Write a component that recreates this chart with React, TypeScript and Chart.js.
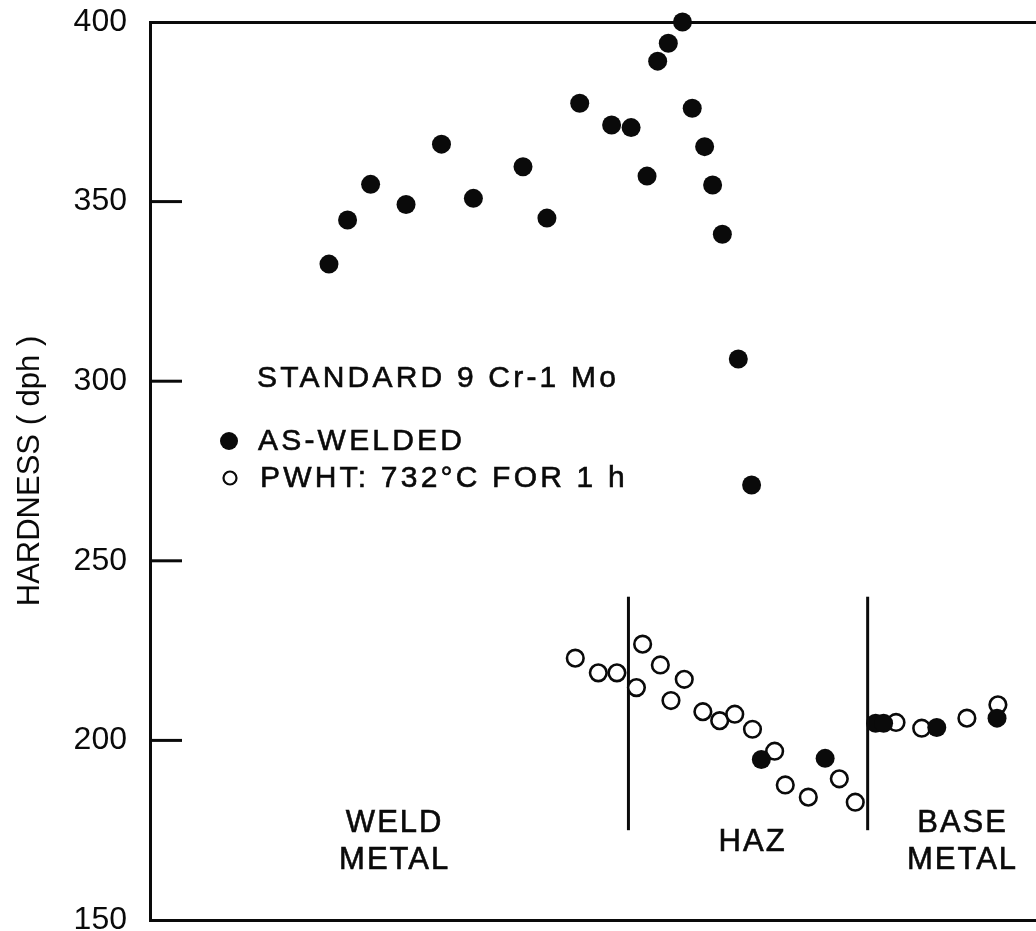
import React, { useEffect, useRef } from "react";
import { Chart, registerables } from "chart.js";

Chart.register(...registerables);

// ---- data ----
const yTicks = [150, 200, 250, 300, 350, 400];

const asWeldedX = [20.2, 22.3, 24.9, 28.9, 32.9, 36.5, 42.1, 44.8, 48.5, 52.1, 54.3, 56.1, 57.3, 58.5, 60.1, 61.2, 62.6, 63.5, 64.6, 66.4, 67.9, 69.0, 76.2, 81.9, 82.8, 88.8, 95.6];
const asWeldedY = [332.6, 344.9, 354.8, 349.2, 366.0, 350.9, 359.7, 345.4, 377.4, 371.3, 370.6, 357.1, 389.1, 394.1, 400, 376.0, 365.3, 354.6, 340.9, 306.2, 271.1, 194.7, 195.0, 204.8, 204.8, 203.6, 206.2];

const pwhtX = [48.0, 50.6, 52.7, 54.9, 55.6, 57.6, 58.8, 60.3, 62.4, 64.3, 66.0, 68.0, 70.5, 71.7, 74.3, 77.8, 79.6, 84.2, 87.1, 92.2, 95.7];
const pwhtY = [222.9, 218.8, 218.8, 214.7, 226.8, 221.0, 211.1, 217.0, 208.0, 205.5, 207.3, 203.1, 197.0, 187.6, 184.2, 189.3, 182.8, 205.0, 203.4, 206.2, 209.9];

const zoneBoundaryX = [54.0, 81.0];
const zoneLineY = [175, 240];

const regionLines = [["WELD", "METAL"], ["HAZ"], ["BASE", "METAL"]];
const regionX = [27.5, 67.9, 91.6];
const regionY = [[176.9, 166.7], [171.6], [176.9, 166.7]];

const legendTitle = "STANDARD 9 Cr-1 Mo";
const seriesLabels = ["AS-WELDED", "PWHT: 732°C FOR 1 h"];
const yTitle = "HARDNESS ( dph )";

const W = 1036;
const H = 931;
const FONT = "'Liberation Sans', Arial, sans-serif";
const INK = "#0a0a0a";

function drawSpaced(ctx: CanvasRenderingContext2D, text: string, x: number, y: number, spacing: number, align: "left" | "center") {
  const anyCtx = ctx as any;
  anyCtx.letterSpacing = spacing + "px";
  const w = ctx.measureText(text).width - spacing;
  const startX = align === "center" ? x - w / 2 : x;
  ctx.textAlign = "left";
  ctx.fillText(text, startX, y);
  ctx.lineWidth = 0.6;
  ctx.strokeText(text, startX, y);
  anyCtx.letterSpacing = "0px";
}

const decorPlugin = {
  id: "decor",
  afterDraw(chart: any) {
    const { ctx, chartArea, scales } = chart;
    const ys = scales.y;
    const xs = scales.x;
    ctx.save();
    // inward ticks
    ctx.strokeStyle = INK;
    ctx.lineWidth = 3;
    ys.ticks.forEach((t: any) => {
      if (t.value <= 150 || t.value >= 400) return;
      const py = ys.getPixelForValue(t.value);
      ctx.beginPath();
      ctx.moveTo(chartArea.left, py);
      ctx.lineTo(chartArea.left + 32, py);
      ctx.stroke();
    });

    // region labels
    ctx.fillStyle = INK;
    ctx.textBaseline = "middle";
    ctx.font = `31px ${FONT}`;
    regionLines.forEach((lines, i) => {
      lines.forEach((line, j) => {
        drawSpaced(ctx, line, xs.getPixelForValue(regionX[i]), ys.getPixelForValue(regionY[i][j]), 2, "center");
      });
    });

    // legend
    ctx.font = `30px ${FONT}`;
    drawSpaced(ctx, legendTitle, 257, 379, 3.2, "left");
    drawSpaced(ctx, seriesLabels[0], 258, 442, 3.2, "left");
    drawSpaced(ctx, seriesLabels[1], 260, 479, 3.2, "left");
    ctx.beginPath();
    ctx.arc(229, 441, 9, 0, Math.PI * 2);
    ctx.fill();
    ctx.beginPath();
    ctx.lineWidth = 2.2;
    ctx.arc(230, 478, 6.5, 0, Math.PI * 2);
    ctx.stroke();
    ctx.restore();
  },
};

export default function App() {
  const ref = useRef<HTMLCanvasElement | null>(null);

  useEffect(() => {
    if (!ref.current) return;
    const boundaryDatasets = zoneBoundaryX.map((bx) => ({
      type: "line" as const,
      label: "boundary",
      data: zoneLineY.map((yy) => ({ x: bx, y: yy })),
      borderColor: INK,
      borderWidth: 3,
      pointRadius: 0,
      fill: false,
      clip: false as any,
      order: 3,
    }));
    const chart = new Chart(ref.current, {
      type: "scatter",
      data: {
        datasets: [
          {
            label: seriesLabels[1],
            data: pwhtX.map((x, i) => ({ x, y: pwhtY[i] })),
            pointRadius: 8.3,
            pointBorderWidth: 2.6,
            pointBorderColor: INK,
            pointBackgroundColor: "#ffffff",
            clip: false as any,
            order: 2,
          },
          {
            label: seriesLabels[0],
            data: asWeldedX.map((x, i) => ({ x, y: asWeldedY[i] })),
            pointRadius: 9.5,
            pointBorderWidth: 0,
            pointBackgroundColor: INK,
            pointBorderColor: INK,
            clip: false as any,
            order: 1,
          },
          ...boundaryDatasets,
        ] as any,
      },
      options: {
        animation: false,
        responsive: false,
        maintainAspectRatio: false,
        devicePixelRatio: 1,
        layout: { autoPadding: false, padding: { top: 22, bottom: 11, left: 0, right: 0 } },
        plugins: {
          legend: { display: false },
          tooltip: { enabled: false },
        },
        scales: {
          x: {
            type: "linear",
            position: "bottom",
            min: 0,
            max: 100,
            grid: { display: false, drawTicks: false },
            ticks: { display: false },
            border: { display: true, color: INK, width: 3 },
            afterFit: (s: any) => {
              s.height = 0;
              s.paddingLeft = 0;
              s.paddingRight = 0;
            },
          },
          x2: {
            type: "linear",
            position: "top",
            min: 0,
            max: 100,
            grid: { display: false, drawTicks: false },
            ticks: { display: false },
            border: { display: true, color: INK, width: 3 },
            afterFit: (s: any) => {
              s.height = 0;
              s.paddingLeft = 0;
              s.paddingRight = 0;
            },
          },
          y: {
            type: "linear",
            min: yTicks[0],
            max: yTicks[yTicks.length - 1],
            afterBuildTicks: (s: any) => {
              s.ticks = yTicks.map((v) => ({ value: v }));
            },
            grid: { display: false, drawTicks: false },
            border: { display: true, color: INK, width: 3 },
            ticks: {
              color: INK,
              padding: 23,
              font: { family: FONT, size: 32 },
            },
            title: {
              display: true,
              text: yTitle,
              color: INK,
              font: { family: FONT, size: 31 },
              padding: { top: 12, bottom: 0 },
            },
            afterFit: (s: any) => {
              s.width = 150;
              s.paddingTop = 0;
              s.paddingBottom = 0;
            },
          },
        },
      } as any,
      plugins: [decorPlugin],
    });
    return () => chart.destroy();
  }, []);

  return (
    <div style={{ position: "fixed", left: 0, top: 0, width: W, height: H, background: "#fff" }}>
      <canvas ref={ref} width={W} height={H} style={{ display: "block", width: W, height: H }} />
    </div>
  );
}
